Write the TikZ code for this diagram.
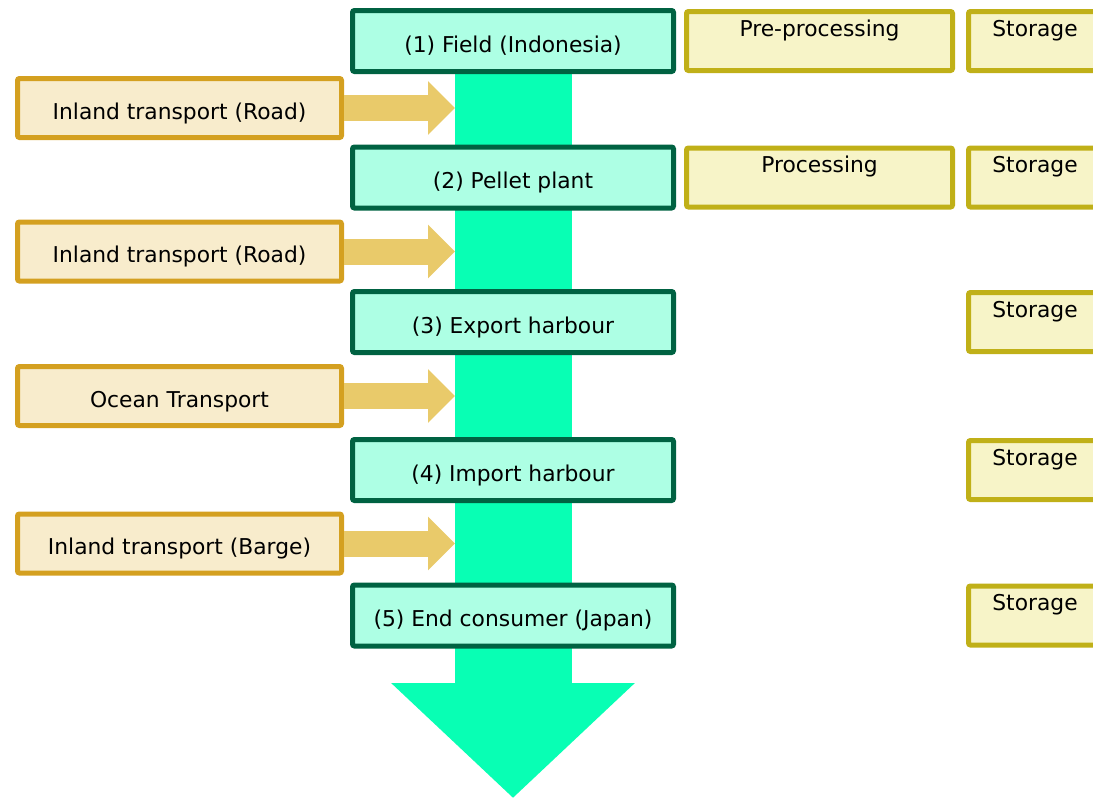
\documentclass[tikz,border=0pt]{standalone}
\usepackage{fontspec}
\setmainfont{DejaVu Sans}
\usetikzlibrary{arrows.meta,positioning,backgrounds}
\definecolor{stagefill}{RGB}{173,255,228}
\definecolor{stageline}{RGB}{0,98,66}
\definecolor{flowgreen}{RGB}{8,255,180}
\definecolor{movefill}{RGB}{248,236,204}
\definecolor{moveline}{RGB}{212,160,32}
\definecolor{feedgold}{RGB}{233,202,106}
\definecolor{taskfill}{RGB}{247,244,200}
\definecolor{taskline}{RGB}{192,176,24}

\begin{document}
\begin{tikzpicture}[x=1pt,y=-1pt,
    every node/.style={font=\fontsize{21.8}{26}\selectfont, inner sep=0pt, line width=5pt, rounded corners=2pt},
    stage/.style={draw=stageline, fill=stagefill, minimum width=321pt, text height=41.5pt, text depth=19.5pt},
    move/.style={draw=moveline, fill=movefill, minimum width=324pt, text height=40.5pt, text depth=18.5pt},
    task/.style={draw=taskline, fill=taskfill, minimum width=266pt, text height=24.5pt, text depth=34.5pt},
    store/.style={task, minimum width=133pt},
    flow/.style={flowgreen, line width=117pt, -{Triangle[length=115pt,width=237pt]}},
    feed/.style={feedgold, line width=26pt, -{Triangle[length=27pt,width=52pt]}}]
    \useasboundingbox (0,0) rectangle (1093,798);
    % supply chain stages
    \node[stage] (field) at (513,41) {(1) Field (Indonesia)};
    \node[stage] (pellet) at (513,177.5) {(2) Pellet plant};
    \node[stage] (export) at (513,322) {(3) Export harbour};
    \node[stage] (import) at (513,470) {(4) Import harbour};
    \node[stage] (consumer) at (513,615.5) {(5) End consumer (Japan)};
    \coordinate (tip) at (513,798);
    \coordinate (bandedge) at (455,0);
    \begin{pgfonlayer}{background}
        \draw[flow] (field.center) -- (tip);
    \end{pgfonlayer}
    % transport legs
    \node[move] (road1) at (179.5,108) {Inland transport (Road)};
    \node[move] (road2) at (179.5,251.5) {Inland transport (Road)};
    \node[move] (ocean) at (179.5,396) {Ocean Transport};
    \node[move] (barge) at (179.5,543.5) {Inland transport (Barge)};
    \draw[feed] (road1.east) -- (road1.east -| bandedge);
    \draw[feed] (road2.east) -- (road2.east -| bandedge);
    \draw[feed] (ocean.east) -- (ocean.east -| bandedge);
    \draw[feed] (barge.east) -- (barge.east -| bandedge);
    % activities at each stage
    \node[task, right=8pt of field] (preproc) {Pre-processing};
    \node[store, right=11pt of preproc] (store1) {Storage};
    \node[task, right=8pt of pellet] (proc) {Processing};
    \node[store, right=11pt of proc] (store2) {Storage};
    \node[store] (store3) at (export -| store1) {Storage};
    \node[store] (store4) at (import -| store1) {Storage};
    \node[store] (store5) at (consumer -| store1) {Storage};
\end{tikzpicture}
\end{document}
